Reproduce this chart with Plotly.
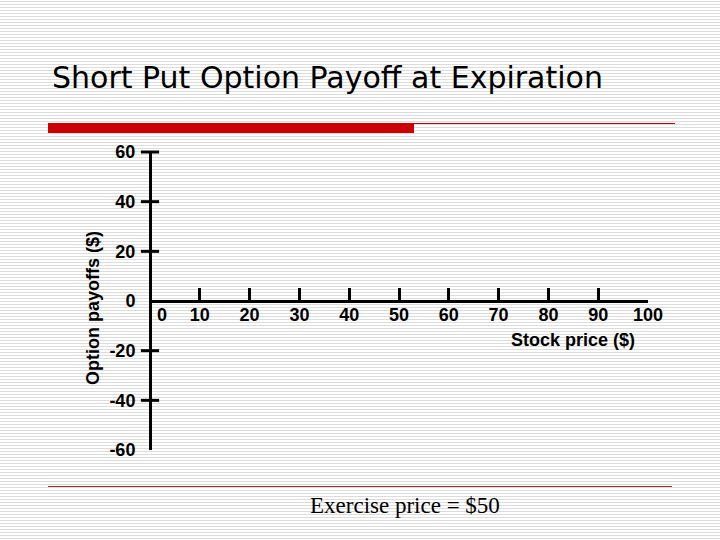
import plotly.graph_objects as go

# axis values (the slide shows empty axes, no payoff line yet)
stock_prices = [0, 10, 20, 30, 40, 50, 60, 70, 80, 90, 100]
payoff_ticks = [-60, -40, -20, 0, 20, 40, 60]
payoff_marks = [-40, -20, 20, 40, 60]

W, H = 720, 540


def px_x(p):
    return p / W


def px_y(p):
    return 1 - p / H


fig = go.Figure()

# tick marks crossing the vertical axis
fig.add_trace(go.Scatter(
    x=[0] * len(payoff_marks), y=payoff_marks, mode="markers",
    marker=dict(symbol="line-ew", size=13, line=dict(width=3, color="black")),
    cliponaxis=False, hoverinfo="skip", showlegend=False,
))

bold = dict(family="Liberation Sans, Arial, sans-serif", size=18, color="black", weight="bold")

fig.update_layout(
    width=W, height=H,
    margin=dict(l=0, r=0, t=0, b=0, pad=0),
    paper_bgcolor="white",
    plot_bgcolor="rgba(0,0,0,0)",
    showlegend=False,
    xaxis=dict(
        domain=[px_x(150), px_x(648)], range=[0, 100],
        anchor="free", position=px_y(301), automargin=False,
        showline=True, linewidth=3, linecolor="black",
        tickvals=stock_prices[1:], ticks="inside", ticklen=12, tickwidth=3, tickcolor="black",
        showgrid=False, zeroline=False, tickfont=bold, ticklabelstandoff=-4,
    ),
    yaxis=dict(
        domain=[px_y(450), px_y(152)], range=[-60, 60],
        anchor="free", position=px_x(150), automargin=False,
        showline=True, linewidth=3, linecolor="black",
        tickvals=payoff_ticks, ticktext=[str(v) for v in payoff_ticks],
        ticks="", showgrid=False, zeroline=False,
        tickfont=bold, ticklabelstandoff=10,
    ),
)


def note(x, y, text, font, **kw):
    fig.add_annotation(x=px_x(x), y=px_y(y), xref="paper", yref="paper",
                       xanchor=kw.pop("xanchor", "center"), yanchor="middle",
                       showarrow=False, text=text, font=font, **kw)


# "0" label sits just right of the vertical axis
note(162, 315, "0", bold)

# striped slide background
shapes = []
for py in range(1, H, 3):
    shapes.append(dict(type="line", xref="paper", yref="paper", layer="below",
                       x0=0, x1=1, y0=px_y(py + 0.5), y1=px_y(py + 0.5),
                       line=dict(color="#dcdcdc", width=1)))

# title rules
shapes.append(dict(type="rect", xref="paper", yref="paper", layer="below",
                   x0=px_x(48), x1=px_x(414), y0=px_y(133), y1=px_y(123),
                   fillcolor="#cc0000", line=dict(width=0)))
shapes.append(dict(type="line", xref="paper", yref="paper", layer="below",
                   x0=px_x(414), x1=px_x(675), y0=px_y(123.5), y1=px_y(123.5),
                   line=dict(color="#cc0000", width=1)))
shapes.append(dict(type="line", xref="paper", yref="paper", layer="below",
                   x0=px_x(48), x1=px_x(672), y0=px_y(486.5), y1=px_y(486.5),
                   line=dict(color="#993333", width=1)))
fig.update_layout(shapes=shapes)

note(50, 78, "Short Put Option Payoff at Expiration",
     dict(family="DejaVu Sans, Verdana, sans-serif", size=30, color="black"), xanchor="left")
note(573, 340, "Stock price ($)", bold)
note(93, 308, "Option payoffs ($)", bold, textangle=-90)
note(405, 505, "Exercise price = $50",
     dict(family="Liberation Serif, Times New Roman, serif", size=23, color="black"))

# drop the default page margin so the 720x540 figure fills the window
fig.write_html("out.html", config={"displayModeBar": False},
               post_script="document.body.style.margin = '0';")
